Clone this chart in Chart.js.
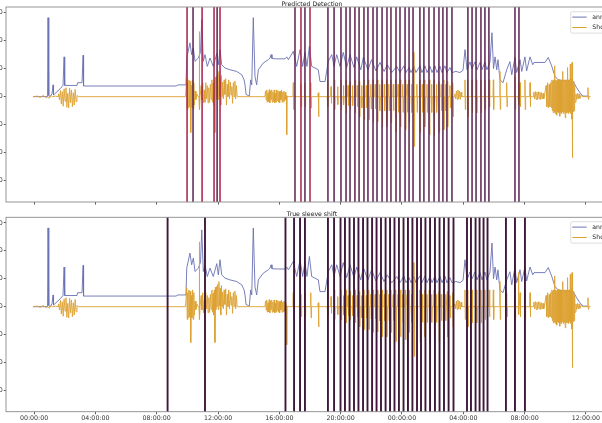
<!DOCTYPE html>
<html><head><meta charset="utf-8">
<script src="https://cdn.jsdelivr.net/npm/chart.js@4.4.1/dist/chart.umd.min.js"></script>
<style>
html,body{margin:0;padding:0;background:#fff;}
#wrap{position:relative;width:602px;height:423px;overflow:hidden;background:#fff;}
#c1{position:absolute;left:-40px;top:0;width:680px;height:212px;}
#c2{position:absolute;left:-40px;top:206px;width:680px;height:217px;}
</style></head><body>
<div id="wrap"><canvas id="c1" width="680" height="212"></canvas><canvas id="c2" width="680" height="217"></canvas></div>
<script>
// ---- data (time in hours since 00:00 of first day) ----
const xTickHours = [0,4,8,12,16,20,24,28,32,36];
const yTickValues = [-1.5,-1,-0.5,0,0.5,1,1.5];
const seriesNames = ['annotation','Shock'];
const panelTitles = ['Predicted Detection','True sleeve shift'];

const annTimes = [-0.07,0.78,0.88,0.91,0.96,1.04,1.17,1.24,1.27,1.43,1.70,1.89,1.96,2.00,2.35,2.80,2.84,3.13,3.20,3.23,4.30,6.26,8.67,9.26,9.39,9.91,9.96,10.17,10.28,10.39,10.50,10.72,10.86,10.94,11.04,11.15,11.30,11.48,11.69,11.92,12.02,12.13,12.24,12.46,12.78,13.22,13.55,13.70,13.76,13.83,14.04,14.13,14.20,14.30,14.41,14.52,14.63,14.95,15.28,15.39,15.46,15.52,15.83,16.37,16.48,16.59,16.91,17.13,17.35,17.52,17.67,17.80,17.96,18.11,18.33,18.54,18.65,18.98,19.19,19.42,19.57,19.74,19.96,20.17,20.39,20.61,20.87,21.04,21.31,21.48,21.78,22.02,22.30,22.57,22.83,23.04,23.33,23.66,23.87,24.13,24.26,24.46,24.59,24.78,24.91,25.17,25.30,25.50,25.63,25.83,25.96,26.15,26.28,26.48,26.61,26.80,26.93,27.13,27.26,27.52,27.78,27.98,28.11,28.24,28.43,28.57,28.76,28.89,29.09,29.22,29.41,29.54,29.74,29.87,29.97,30.07,30.18,30.26,30.39,30.59,30.83,31.04,31.16,31.37,31.48,31.70,31.81,32.02,32.13,32.35,32.53,32.61,33.33,33.54,33.76,33.98,34.19,34.63,35.17,35.39,35.61,35.81,36.13];
const annValues = [0,0,0,1.41,0.02,0,0.05,0.21,0.03,0.07,0.14,0.20,0.71,0.20,0.20,0.20,0.25,0.25,0.74,0.19,0.19,0.19,0.19,0.19,0.21,0.21,0.69,0.96,0.75,0.87,0.63,0.69,0.80,1.375,0.63,0.75,0.54,0.69,0.54,0.77,0.57,0.84,0.57,0.51,0.48,0.45,0.39,0.30,0.21,0.04,0.01,0.30,0.21,1.41,0.36,0.21,0.48,0.60,0.66,0.69,0.75,0.68,0.675,0.675,0.71,0.66,0.81,0.54,0.84,0.54,0.79,0.54,0.90,0.54,0.51,0.48,0.27,0.27,0.63,0.75,0.54,0.75,0.54,0.79,0.52,0.75,0.52,0.71,0.48,0.70,0.48,0.66,0.46,0.61,0.45,0.57,0.43,0.54,0.43,0.55,0.43,0.52,0.43,0.54,0.43,0.55,0.43,0.55,0.43,0.54,0.43,0.55,0.43,0.54,0.43,0.55,0.43,0.52,0.43,0.45,0.43,0.47,0.84,0.48,0.62,0.50,0.62,0.48,0.61,0.48,0.62,0.48,0.62,1.14,0.50,0.71,0.48,0.66,0.30,0.25,0.48,0.625,0.39,0.70,0.43,0.66,0.45,0.71,0.46,0.71,0.57,0.61,0.61,0.70,0.55,0.36,0.30,0.28,0.27,0.16,0.07,0.01,0.01];

const shockTimes = [-0.07,0.2,0.4,0.6,0.8,0.9,1.0,1.1,1.2,1.4,1.57,
 1.60,1.66,1.72,1.78,1.84,1.90,1.96,2.02,2.08,2.14,2.20,2.26,2.32,2.38,2.44,2.50,2.56,2.62,2.68,2.74,2.80,2.90,9.88,
 9.91,9.96,9.99,10.02,10.06,10.10,10.14,10.18,10.22,10.26,10.30,10.34,10.38,10.42,10.46,10.50,10.56,10.62,10.70,10.76,10.78,10.80,10.83,
 10.90,10.95,11.00,11.05,11.10,11.15,11.20,11.25,11.30,11.35,11.40,11.45,11.50,11.55,11.60,11.64,11.68,11.72,11.76,11.80,11.83,11.86,
 11.90,11.94,11.98,12.02,12.06,12.10,12.14,12.18,12.22,12.26,12.30,12.35,12.40,12.45,12.50,12.55,12.60,12.65,12.70,12.75,12.80,12.85,12.90,12.95,13.00,13.05,13.10,13.15,13.20,13.25,15.06,
 15.10,15.14,15.18,15.22,15.26,15.30,15.34,15.38,15.42,15.46,15.50,15.54,15.58,15.62,15.66,15.70,15.74,15.78,15.82,15.86,15.90,15.94,15.98,16.02,16.06,16.10,16.14,16.18,16.22,16.26,16.30,16.34,16.38,16.42,16.46,16.48,16.50,
 27.40,27.45,27.50,27.55,27.60,27.65,27.70,27.75,27.80,27.85,27.90,
 32.50,32.55,32.60,32.65,32.70,32.75,32.80,32.85,32.90,32.95,33.00,33.05,33.10,33.15,33.20,33.25,33.30,
 33.40,33.45,33.50,33.55,33.60,33.65,33.70,33.75,
 33.78,33.81,33.84,33.87,33.90,33.93,33.96,33.99,34.02,34.05,34.08,34.11,34.14,34.17,34.20,34.23,34.26,34.29,34.32,34.35,34.38,34.41,34.44,34.47,34.50,34.53,34.56,34.59,34.62,34.65,34.68,34.71,34.74,34.77,34.80,34.83,34.86,34.89,34.92,34.95,34.98,35.01,35.04,35.07,35.09,35.11,35.14,35.17,35.20,35.23,35.26,35.29,
 35.35,35.40,35.45,35.50,35.55,35.60,35.70,35.80,36.10,36.13,36.16,36.20,36.30];
const shockValues = [0,0.01,-0.01,0.02,-0.02,0,-0.03,0.02,0,0.01,0,
 0.05,-0.06,0.11,-0.13,0.09,-0.17,0.14,-0.08,0.16,-0.19,0.06,-0.20,0.15,-0.11,0.12,-0.18,0.07,-0.15,0.13,-0.09,0.02,0,0,
 0,0.34,-0.23,0.25,-0.20,0.30,-0.18,0.28,-0.64,0.20,-0.20,0.30,-0.23,0.25,-0.15,0.10,-0.05,0.05,0,0,1.16,-0.23,0,
 0.20,-0.06,0.25,-0.11,0.12,-0.10,0.25,-0.04,0.20,-0.11,0.16,-0.10,0.22,-0.05,0.30,-0.10,0.24,-0.15,0.30,-0.64,0.35,-0.05,
 0.36,0,0.40,-0.05,0.45,0.02,0.33,-0.15,0.38,0,0.26,-0.04,0.30,0.04,0.32,-0.15,0.22,0,0.30,-0.04,0.26,0.03,0.18,-0.12,0.25,0,0.28,-0.04,0.20,0,0,
 0.10,-0.06,0.12,-0.10,0.07,-0.09,0.125,-0.11,0.10,-0.05,0.12,-0.10,0.08,-0.09,0.12,-0.11,0.06,-0.10,0.12,-0.07,0.11,-0.10,0.09,-0.11,0.10,-0.06,0.12,-0.10,0.08,-0.09,0.10,-0.08,0.08,-0.05,0.02,-0.68,0,
 0,0.05,-0.04,0.10,-0.05,0.12,-0.04,0.10,-0.05,0.08,0,
 0,0,0.08,-0.04,0.09,-0.05,0.08,-0.05,0.09,-0.04,0.08,-0.05,0.07,-0.04,0.06,-0.04,0.03,
 0.20,-0.18,0.25,-0.20,0.22,-0.18,0.25,-0.20,
 0.30,-0.25,0.28,-0.29,0.30,-0.27,0.55,-0.30,0.30,-0.28,0.29,-0.33,0.30,-0.27,0.31,-0.29,0.30,-0.35,0.28,-0.28,0.30,-0.30,0.29,-0.27,0.45,-0.30,0.30,-0.28,0.30,-0.38,0.30,-0.29,0.30,-0.28,0.52,-0.30,0.30,-0.29,0.30,-0.27,0.58,-0.30,0.32,-0.40,0.61,-1.09,0.30,-0.27,0.28,-0.25,0.20,-0.10,
 0.05,-0.05,0.06,-0.04,0.05,-0.03,0.02,0,0,0.16,-0.05,0,0];

// isolated shock bursts: [time, peak up, peak down]
const shockSpikes = [
 [16.91,0.25,-0.23],[17.41,0.23,-0.18],[17.67,0.25,-0.18],[18.05,0.25,-0.20],[18.54,0.07,-0.36],
 [19.15,0.30,-0.18],[19.37,0.18,-0.12],[19.59,0.30,-0.23],[19.80,0.18,-0.14],[20.02,0.30,-0.23],[20.18,0.2,-0.15],
 [20.35,0.30,-0.29],[20.48,0.2,-0.16],[20.61,0.27,-0.23],[20.77,0.2,-0.16],[20.94,0.30,-0.29],[21.08,0.2,-0.18],
 [21.22,0.27,-0.36],[21.37,0.2,-0.2],[21.52,0.30,-0.41],[21.67,0.2,-0.2],[21.83,0.30,-0.41],[21.97,0.22,-0.22],
 [22.11,0.30,-0.46],[22.25,0.22,-0.22],[22.39,0.30,-0.45],[22.54,0.22,-0.25],[22.70,0.30,-0.54],[22.85,0.22,-0.25],
 [23.00,0.30,-0.54],[23.14,0.22,-0.25],[23.28,0.30,-0.46],[23.43,0.22,-0.25],[23.59,0.30,-0.625],[23.74,0.22,-0.28],
 [23.89,0.30,-0.54],[24.05,0.22,-0.28],[24.22,0.30,-0.59],[24.34,0.22,-0.28],[24.46,0.30,-0.46],[24.62,0.22,-0.28],
 [24.78,0.79,-0.89],[24.97,0.22,-0.28],[25.17,0.30,-0.64],[25.32,0.22,-0.28],[25.48,0.30,-0.54],[25.63,0.22,-0.28],
 [25.78,0.30,-0.68],[25.93,0.22,-0.28],[26.09,0.30,-0.71],[26.25,0.22,-0.28],[26.41,0.27,-0.64],[26.56,0.22,-0.25],
 [26.72,0.30,-0.59],[26.84,0.22,-0.25],[26.96,0.27,-0.54],[27.13,0.2,-0.2],[27.31,0.25,-0.36],
 [28.11,0.30,-0.23],[28.29,0.30,-0.36],[28.57,0.30,-0.29],[28.87,0.30,-0.29],[29.15,0.30,-0.29],[29.41,0.30,-0.23],
 [29.69,0.30,-0.18],[29.96,0.30,-0.23],[30.39,0.45,-0.23],[30.83,0.25,-0.18],[31.37,0.36,-0.23],[31.60,0.61,-0.14],
 [31.70,0.25,-0.18],[32.02,0.30,-0.23],[32.35,0.25,-0.18]
];

const predictedRed = [9.98,10.96,11.74,12.13,17.41,18.00];
const predictedPurple = [10.37,11.94,17.02,17.67,19.17,19.57,20.02,20.35,20.61,20.93,21.20,21.52,21.78,22.11,22.37,22.70,23.02,23.28,23.61,23.87,24.20,24.46,24.72,25.17,25.43,25.76,26.09,26.41,26.67,26.93,27.26,28.30,28.57,28.83,29.15,29.41,29.67,31.37,31.63];
const trueEvents = [8.71,11.15,16.40,16.96,17.35,17.67,19.17,19.57,19.99,20.28,20.58,20.87,21.16,21.46,21.75,22.05,22.34,22.63,22.93,23.22,23.51,23.80,24.10,24.39,24.68,24.98,25.24,25.53,25.83,26.15,26.45,26.74,27.04,27.36,28.24,28.50,28.80,29.06,29.32,29.58,30.78,31.37,32.02];

// ---- helpers ----
const X_MIN = -1.83, X_MAX = 38.09, Y_MIN = -1.88, Y_MAX = 1.60;
const BLUE = '#6a72b2', GOLD = '#dca232';
Chart.defaults.font.family = '"DejaVu Sans", sans-serif';
Chart.defaults.font.size = 6.3;
Chart.defaults.color = '#333';

function annPoints(){ return annTimes.map((t,i)=>({x:t,y:annValues[i]})); }
function shockPoints(){
  const pts = shockTimes.map((t,i)=>({x:t,y:shockValues[i]}));
  shockSpikes.forEach(([t,up,down])=>{
    pts.push({x:t-0.025,y:0},{x:t,y:up},{x:t+0.02,y:down},{x:t+0.045,y:0});
  });
  pts.sort((a,b)=>a.x-b.x);
  return pts;
}
function vlines(times){
  const d=[]; times.forEach(t=>{ d.push({x:t,y:Y_MIN-1},{x:t,y:Y_MAX+1},{x:t,y:null}); }); return d;
}
function fmtHour(v){ const h=((Math.round(v)%24)+24)%24; return String(h).padStart(2,'0')+':00:00'; }

const framePlugin = {
  id:'frame',
  afterDatasetsDraw(chart){
    const {ctx, chartArea:a} = chart;
    ctx.save(); ctx.strokeStyle='#8a8a8a'; ctx.lineWidth=0.9;
    ctx.strokeRect(a.left, a.top, a.right-a.left, a.bottom-a.top);
    ctx.restore();
  }
};
const titleLegendPlugin = {
  id:'panelDecor',
  afterDraw(chart, args, opts){
    const {ctx, chartArea:a} = chart;
    ctx.save();
    ctx.font = '6.2px "DejaVu Sans", sans-serif';
    ctx.fillStyle = '#222'; ctx.textAlign='center'; ctx.textBaseline='alphabetic';
    ctx.fillText(opts.title, (a.left+a.right)/2, a.top-0.9);
    // legend box (upper right, inside axes)
    const bx = a.right-47.3, by = a.top+opts.boxDy, bw = 60, bh = 21.4;
    ctx.fillStyle='rgba(255,255,255,0.85)'; ctx.strokeStyle='#d4d4d4'; ctx.lineWidth=0.8;
    ctx.beginPath(); ctx.roundRect(bx,by,bw,bh,1.5); ctx.fill(); ctx.stroke();
    const cols=[BLUE,GOLD];
    seriesNames.forEach((n,i)=>{
      const ly = by + 5.4 + i*10.4;
      ctx.strokeStyle=cols[i]; ctx.lineWidth=1; ctx.beginPath();
      ctx.moveTo(a.right-45.7, ly); ctx.lineTo(a.right-31.3, ly); ctx.stroke();
      ctx.fillStyle='#222'; ctx.textAlign='left'; ctx.textBaseline='middle';
      ctx.fillText(n, a.right-25.7, ly+0.3);
    });
    ctx.restore();
  }
};

function makeChart(id, idx, vsets, padTop, xAxisH, showXLabels, boxDy){
  const datasets = [];
  vsets.forEach(v=>datasets.push({data:vlines(v.times), borderColor:v.color, borderWidth:v.width, pointRadius:0, spanGaps:false, clip:0, order:0}));
  datasets.push({label:seriesNames[1], data:shockPoints(), borderColor:GOLD, borderWidth:0.9, pointRadius:0, tension:0, clip:0, order:1});
  datasets.push({label:seriesNames[0], data:annPoints(), borderColor:BLUE, borderWidth:0.9, pointRadius:0, tension:0, clip:0, order:2});
  return new Chart(document.getElementById(id), {
    type:'line',
    data:{datasets},
    options:{
      responsive:false, animation:false, events:[],
      layout:{padding:{top:padTop, right:22, left:0, bottom:0}},
      plugins:{legend:{display:false}, tooltip:{enabled:false}, title:{display:false},
        panelDecor:{title:panelTitles[idx], boxDy:boxDy}},
      scales:{
        x:{type:'linear', min:X_MIN, max:X_MAX,
          afterBuildTicks:s=>{ s.ticks = xTickHours.map(v=>({value:v})); },
          afterFit:s=>{ s.height = xAxisH; },
          grid:{drawOnChartArea:false, drawTicks:true, tickLength:2.6, tickColor:'#333', tickWidth:0.8},
          border:{display:false},
          ticks:{padding:0.6, maxRotation:0, autoSkip:false, color:'#333',
            callback:v=> showXLabels ? fmtHour(v) : ''}},
        y:{type:'linear', min:Y_MIN, max:Y_MAX,
          afterBuildTicks:s=>{ s.ticks = yTickValues.map(v=>({value:v})); },
          afterFit:s=>{ s.width = 46; },
          grid:{drawOnChartArea:false, drawTicks:true, tickLength:2.2, tickColor:'#333', tickWidth:0.8},
          border:{display:false},
          ticks:{padding:1, color:'#333', callback:v=>v.toFixed(2)}}
      }
    },
    plugins:[framePlugin, titleLegendPlugin]
  });
}

makeChart('c1', 0, [
  {times:predictedPurple, color:'#5b2352', width:1.5},
  {times:predictedRed, color:'#a8214a', width:1.5}
], 7, 10, false, 4.7);
makeChart('c2', 1, [
  {times:trueEvents, color:'#3e1739', width:1.9}
], 11.3, 11.3, true, 4.4);
</script>
</body></html>
